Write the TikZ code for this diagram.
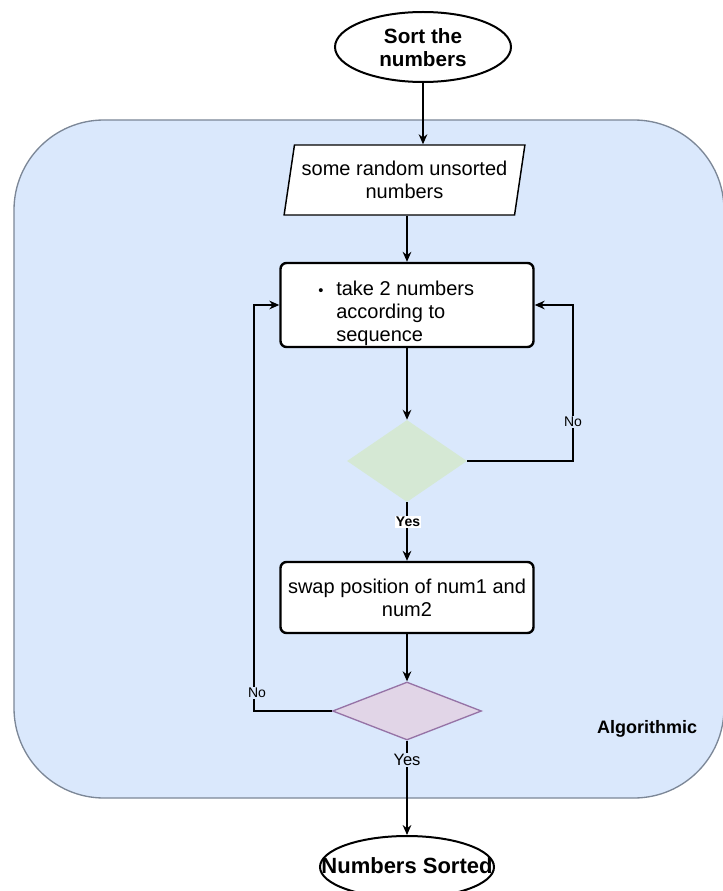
\documentclass[tikz,border=0pt]{standalone}
\usepackage{fontspec}
\setmainfont{Liberation Sans}
\usetikzlibrary{shapes.geometric,arrows.meta,calc}
\definecolor{groupfill}{HTML}{DAE8FC}
\definecolor{groupline}{HTML}{7C8797}
\definecolor{yesfill}{HTML}{D5E8D4}
\definecolor{checkfill}{HTML}{E1D5E7}
\definecolor{checkline}{HTML}{9673A6}
\begin{document}
\begin{tikzpicture}[x=0.75pt,y=-0.75pt,
  body/.style={font=\fontsize{15}{17.25}\selectfont},
  terminal/.style={ellipse, draw, line width=1.5pt, fill=white, inner sep=0pt},
  termtext/.style={font=\fontsize{15.5}{17.25}\selectfont\bfseries, align=center, inner sep=0pt},
  stepbox/.style={draw, line width=1.8pt, rounded corners=4.5pt, fill=white, inner sep=0pt, align=center, body},
  decision/.style={diamond, inner sep=0pt},
  flow/.style={line width=1.1pt, -{Stealth[length=7.5pt,width=6.5pt]}},
  tag/.style={fill=groupfill, inner sep=1pt, font=\fontsize{10.5}{12}\selectfont}
]
\useasboundingbox (0,0) rectangle (722,891);
\fill[white] (0,0) rectangle (722,891);

% algorithm group
\draw[groupline, fill=groupfill, line width=1pt, rounded corners=67.5pt] (14,120) rectangle (724,798);
\node[font=\fontsize{13.5}{15}\selectfont\bfseries] (grouplabel) at (647,729) {Algorithmic};

% start
\node[terminal, minimum width=132pt, minimum height=52.5pt] (start) at (423,47) {};
\node[termtext] (starttext) at (423,48) {Sort the\\numbers};

% input data
\node[trapezium, trapezium left angle=75.6, trapezium right angle=104.4, trapezium stretches=true,
      draw, line width=1.1pt, fill=white, minimum width=180.75pt, minimum height=52.5pt,
      inner sep=0pt, body, align=center] (input) at (404.5,180) {some random unsorted\\numbers};

% pick two numbers
\node[stepbox, minimum width=189.75pt, minimum height=63pt] (proc) at (407,305) {};
\node[body, align=left, anchor=west, inner sep=0pt] (proctext) at (318,313)
  {\makebox[13.5pt][l]{\fontsize{11}{12}\selectfont\textbullet}take 2 numbers\\\hspace*{13.5pt}according to\\\hspace*{13.5pt}sequence};

% first check
\node[decision, fill=yesfill, minimum width=90pt, minimum height=61.5pt] (check) at (407,461) {};

% swap
\node[stepbox, minimum width=189.75pt, minimum height=53.25pt] (swap) at (407,597.5) {swap position of num1 and\\num2};

% second check
\node[decision, fill=checkfill, draw=checkline, line width=1pt, minimum width=111.75pt, minimum height=43.5pt] (sorted) at (407,711) {};

% end
\node[terminal, minimum width=130.5pt, minimum height=46.5pt] (done) at (407,867) {};
\node[termtext, font=\fontsize{16.5}{18}\selectfont\bfseries] (donetext) at (407,866) {Numbers Sorted};

% connectors
\coordinate (rturn) at (573,305);
\coordinate (lturn) at (254,305);
\draw[flow] (start.south) -- (start.south |- input.north);
\draw[flow] (proc.north |- input.south) -- (proc.north);
\draw[flow] (proc.south) -- (check.north);
\draw[flow] (check.east) -| (rturn) -- (proc.east);
\draw[flow] (check.south) -- (swap.north);
\draw[flow] (swap.south) -- (sorted.north);
\draw[flow] (sorted.west) -| (lturn) -- (proc.west);
\draw[flow] (sorted.south) -- (done.north);

% branch labels
\node[tag] (noR) at (573,422) {No};
\node[tag] (noL) at (257,693) {No};
\node[tag, fill=white, font=\fontsize{10.5}{12}\selectfont\bfseries] (yesA) at (408,522) {Yes};
\node[tag, font=\fontsize{12.4}{14}\selectfont] (yesB) at (407,760) {Yes};
\end{tikzpicture}
\end{document}
